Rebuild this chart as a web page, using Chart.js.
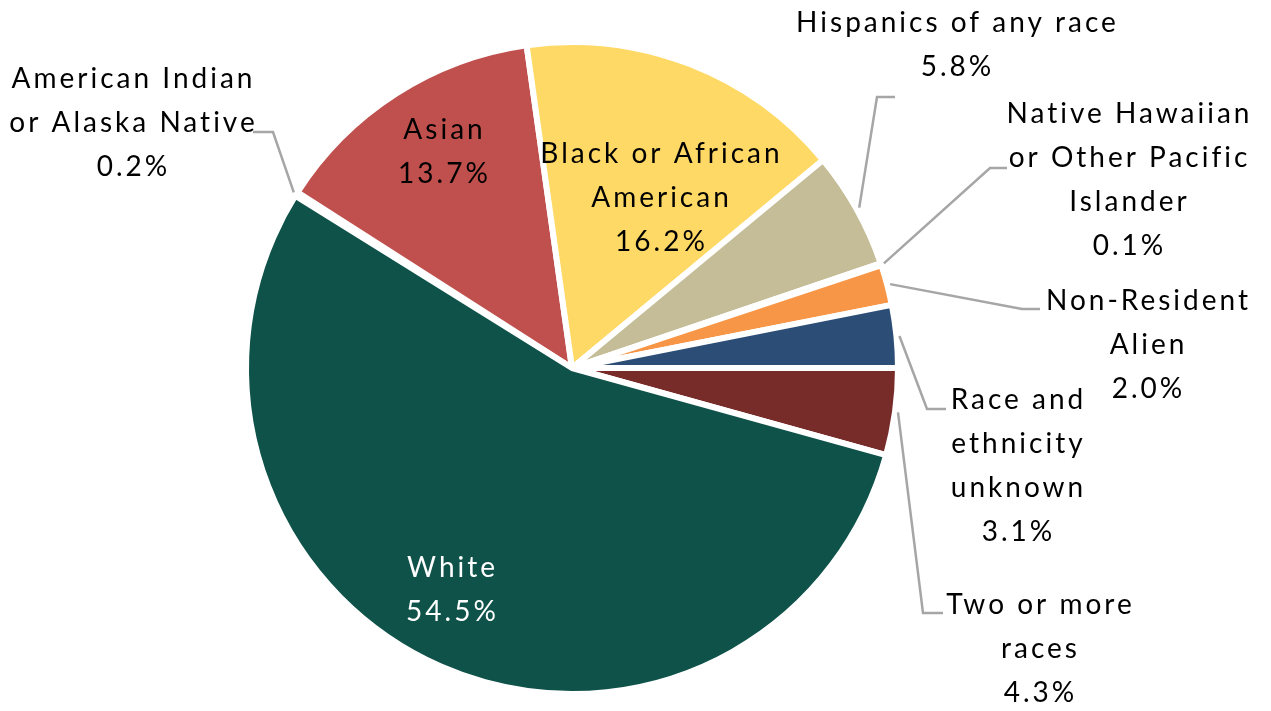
<!DOCTYPE html>
<html>
<head>
<meta charset="utf-8">
<script src="https://cdn.jsdelivr.net/npm/chart.js@4/dist/chart.umd.min.js"></script>
<style>
  html, body { margin: 0; padding: 0; background: #fff; }
  #wrap { position: relative; width: 1271px; height: 711px; }
</style>
</head>
<body>
<div id="wrap"><canvas id="pie"></canvas></div>
<script>
/* Student body by race / ethnicity, pie with Excel-style labels. */
const CATEGORIES = [
  "American Indian or Alaska Native",
  "Asian",
  "Black or African American",
  "Hispanics of any race",
  "Native Hawaiian or Other Pacific Islander",
  "Non-Resident Alien",
  "Race and ethnicity unknown",
  "Two or more races",
  "White",
];
const SHARES = [0.2, 13.7, 16.2, 5.8, 0.1, 2.0, 3.1, 4.3, 54.5];
const LABEL_LINES = [
  ["American Indian", "or Alaska Native"],
  ["Asian"],
  ["Black or African", "American"],
  ["Hispanics of any race"],
  ["Native Hawaiian", "or Other Pacific", "Islander"],
  ["Non-Resident", "Alien"],
  ["Race and", "ethnicity", "unknown"],
  ["Two or more", "races"],
  ["White"],
];

const SLICE_COLORS = [
  "#4f81bd", "#c0504d", "#ffd966", "#c4bd97", "#8064a2",
  "#f79646", "#2c4d75", "#772c2a", "#0e5249",
];

// label placement: centre x, first baseline, text colour, leader (anchor, elbow) or null
const LABEL_STYLE = [
  { x: 132, y: 88, color: "#000", leader: [[253, 132], [273, 132]] },
  { x: 443, y: 139, color: "#000", leader: null },
  { x: 660, y: 163, color: "#000", leader: null },
  { x: 956, y: 32, color: "#000", leader: [[895, 97], [877, 97]] },
  { x: 1128, y: 123, color: "#000", leader: [[1007, 168], [990, 168]] },
  { x: 1147, y: 310, color: "#000", leader: [[1040, 309], [1022, 309]] },
  { x: 1017, y: 409, color: "#000", leader: [[946, 409], [927, 409]] },
  { x: 1039, y: 614, color: "#000", leader: [[943, 613], [923, 613]] },
  { x: 451, y: 577, color: "#fff", leader: null },
];
const LINE_HEIGHT = 44;
const FONT = "28px Lato";
const SPACING = 3;

const pieLabels = {
  id: "pieLabels",
  afterDraw(chart) {
    const ctx = chart.ctx;
    const arcs = chart.getDatasetMeta(0).data;
    ctx.save();
    ctx.font = FONT;
    ctx.textAlign = "center";
    ctx.textBaseline = "alphabetic";
    const spaced = "letterSpacing" in ctx;
    if (spaced) ctx.letterSpacing = SPACING + "px";
    const dx = spaced ? SPACING / 2 : 0;
    LABEL_STYLE.forEach((st, i) => {
      const lines = LABEL_LINES[i].concat([SHARES[i].toFixed(1) + "%"]);
      ctx.fillStyle = st.color;
      lines.forEach((t, k) => ctx.fillText(t, st.x + dx, st.y + k * LINE_HEIGHT));
      if (st.leader) {
        const arc = arcs[i];
        const p = arc.getProps(["x", "y", "startAngle", "endAngle", "outerRadius"], true);
        const mid = (p.startAngle + p.endAngle) / 2;
        const r = p.outerRadius + 3;
        ctx.beginPath();
        ctx.moveTo(st.leader[0][0], st.leader[0][1]);
        ctx.lineTo(st.leader[1][0], st.leader[1][1]);
        ctx.lineTo(p.x + Math.cos(mid) * r, p.y + Math.sin(mid) * r);
        ctx.strokeStyle = "#a6a6a6";
        ctx.lineWidth = 2.5;
        ctx.stroke();
      }
    });
    ctx.restore();
  },
};

new Chart(document.getElementById("pie"), {
  type: "pie",
  data: {
    labels: CATEGORIES,
    datasets: [{
      data: SHARES,
      backgroundColor: SLICE_COLORS,
      borderColor: "#fff",
      borderWidth: 6,
    }],
  },
  options: {
    responsive: true,
    maintainAspectRatio: false,
    animation: false,
    rotation: -58.1,
    layout: { padding: { top: 39, bottom: 14, left: 243, right: 370 } },
    plugins: {
      legend: { display: false },
      tooltip: { enabled: false },
    },
  },
  plugins: [pieLabels],
});
</script>
</body>
</html>
